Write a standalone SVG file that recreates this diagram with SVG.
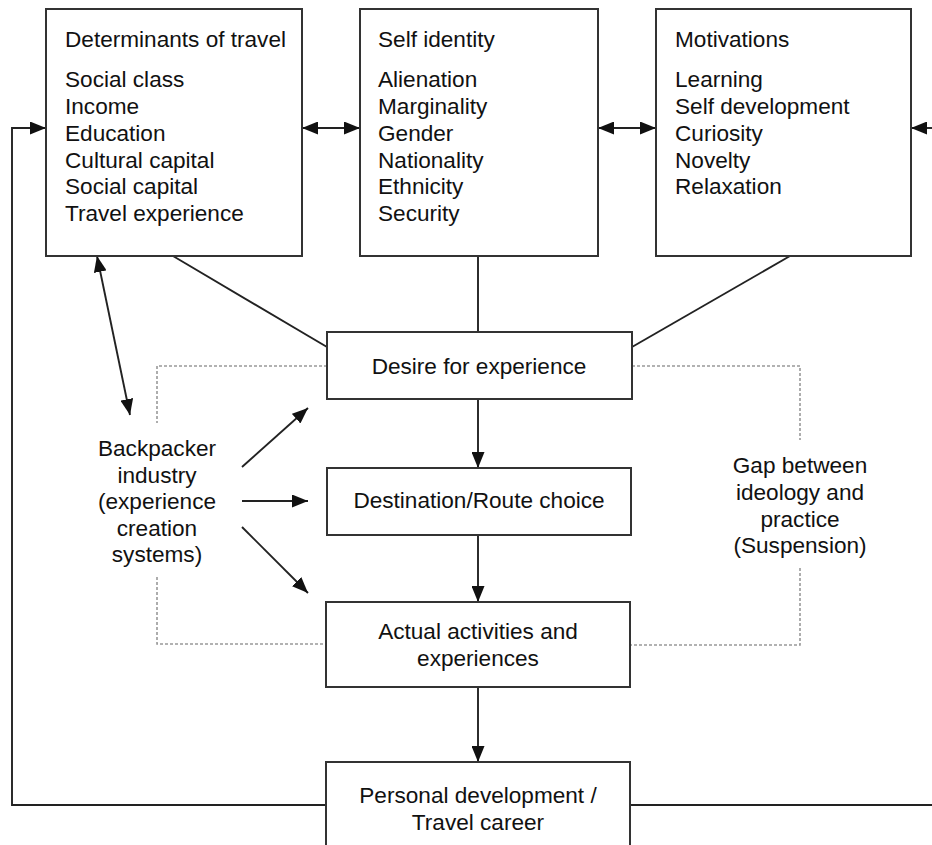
<svg xmlns="http://www.w3.org/2000/svg" width="932" height="845" viewBox="0 0 932 845">
<style>
.box{fill:#fff;stroke:#333;stroke-width:2}
.t{font-family:"Liberation Sans",Arial,sans-serif;font-size:22.6px;fill:#111}
.c{text-anchor:middle}
.ln{stroke:#222;stroke-width:1.9;fill:none}
.dot{stroke:#999;stroke-width:1.6;fill:none;stroke-dasharray:3 2}
</style>
<defs>
<marker id="ah" viewBox="0 0 16 13" refX="16" refY="6.5" markerWidth="16" markerHeight="13" orient="auto-start-reverse" markerUnits="userSpaceOnUse">
<path d="M0,0 L16,6.5 L0,13 z" fill="#111"/>
</marker>
</defs>
<rect width="932" height="845" fill="#fff"/>

<g id="connectors">
<polyline class="ln" points="326,805 12,805 12,128 46,128" marker-end="url(#ah)"/>
<polyline class="ln" points="630,805 932,805"/>
<line class="ln" x1="932" y1="128" x2="911" y2="128" marker-end="url(#ah)"/>
<line class="ln" x1="302" y1="128" x2="360" y2="128" marker-start="url(#ah)" marker-end="url(#ah)"/>
<line class="ln" x1="598" y1="128" x2="656" y2="128" marker-start="url(#ah)" marker-end="url(#ah)"/>
<line class="ln" x1="173" y1="256" x2="327" y2="347"/>
<line class="ln" x1="478" y1="256" x2="478" y2="332"/>
<line class="ln" x1="790" y1="256" x2="632" y2="347"/>
<line class="ln" x1="97" y1="256" x2="130" y2="415" marker-start="url(#ah)" marker-end="url(#ah)"/>
<line class="ln" x1="242" y1="467" x2="308" y2="408" marker-end="url(#ah)"/>
<line class="ln" x1="242" y1="501" x2="308" y2="501" marker-end="url(#ah)"/>
<line class="ln" x1="242" y1="527" x2="308" y2="593" marker-end="url(#ah)"/>
<line class="ln" x1="478" y1="399" x2="478" y2="468" marker-end="url(#ah)"/>
<line class="ln" x1="478" y1="535" x2="478" y2="602" marker-end="url(#ah)"/>
<line class="ln" x1="478" y1="687" x2="478" y2="762" marker-end="url(#ah)"/>
<polyline class="dot" points="327,366 157,366 157,423"/>
<polyline class="dot" points="157,577 157,644 326,644"/>
<polyline class="dot" points="632,366 800,366 800,440"/>
<polyline class="dot" points="800,568 800,645 630,645"/>
</g>

<g id="determinants">
<rect class="box" x="46" y="9" width="256" height="247"/>
<text class="t" x="65" y="47">Determinants of travel</text>
<text class="t" x="65" y="87">Social class</text>
<text class="t" x="65" y="114">Income</text>
<text class="t" x="65" y="141">Education</text>
<text class="t" x="65" y="167.5">Cultural capital</text>
<text class="t" x="65" y="194">Social capital</text>
<text class="t" x="65" y="221">Travel experience</text>
</g>

<g id="self-identity">
<rect class="box" x="360" y="9" width="238" height="247"/>
<text class="t" x="378" y="47">Self identity</text>
<text class="t" x="378" y="87">Alienation</text>
<text class="t" x="378" y="114">Marginality</text>
<text class="t" x="378" y="141">Gender</text>
<text class="t" x="378" y="167.5">Nationality</text>
<text class="t" x="378" y="194">Ethnicity</text>
<text class="t" x="378" y="221">Security</text>
</g>

<g id="motivations">
<rect class="box" x="656" y="9" width="255" height="247"/>
<text class="t" x="675" y="47">Motivations</text>
<text class="t" x="675" y="87">Learning</text>
<text class="t" x="675" y="114">Self development</text>
<text class="t" x="675" y="141">Curiosity</text>
<text class="t" x="675" y="167.5">Novelty</text>
<text class="t" x="675" y="194">Relaxation</text>
</g>

<g id="desire">
<rect class="box" x="327" y="332" width="305" height="67"/>
<text class="t c" x="479" y="374">Desire for experience</text>
</g>

<g id="destination">
<rect class="box" x="327" y="468" width="304" height="67"/>
<text class="t c" x="479" y="508">Destination/Route choice</text>
</g>

<g id="activities">
<rect class="box" x="326" y="602" width="304" height="85"/>
<text class="t c" x="478" y="639">Actual activities and</text>
<text class="t c" x="478" y="666">experiences</text>
</g>

<g id="personal">
<rect class="box" x="326" y="762" width="304" height="100"/>
<text class="t c" x="478" y="803">Personal development /</text>
<text class="t c" x="478" y="830">Travel career</text>
</g>

<g id="backpacker">
<text class="t c" x="157" y="456">Backpacker</text>
<text class="t c" x="157" y="483">industry</text>
<text class="t c" x="157" y="509">(experience</text>
<text class="t c" x="157" y="536">creation</text>
<text class="t c" x="157" y="562">systems)</text>
</g>

<g id="gap">
<text class="t c" x="800" y="473">Gap between</text>
<text class="t c" x="800" y="500">ideology and</text>
<text class="t c" x="800" y="527">practice</text>
<text class="t c" x="800" y="553">(Suspension)</text>
</g>
</svg>
